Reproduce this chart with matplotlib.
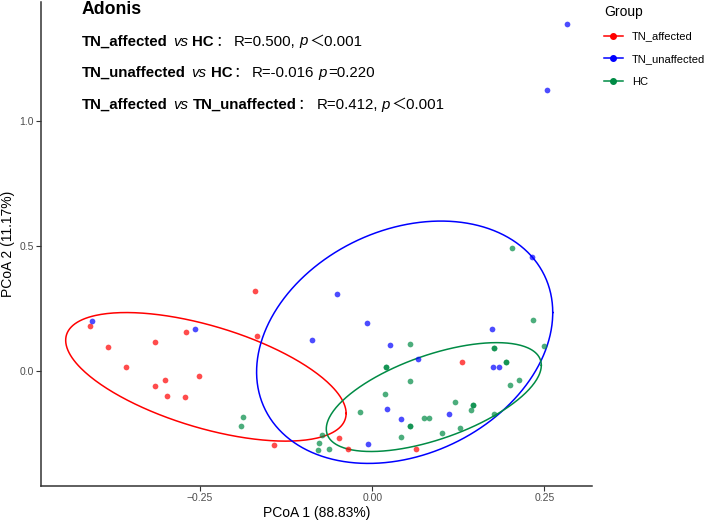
import numpy as np
import matplotlib
matplotlib.use("Agg")
import matplotlib.pyplot as plt
from matplotlib.lines import Line2D
from matplotlib.ticker import FuncFormatter

# PCoA scores
red_x = [-0.4099, -0.3842, -0.3155, -0.2709, -0.1708, -0.1670, -0.3581, -0.3010, -0.3148,
         -0.2512, -0.2977, -0.2724, -0.1432, -0.0479, -0.0357, 0.0630, 0.1307]
red_y = [0.1816, 0.0948, 0.1148, 0.1548, 0.3200, 0.1416, 0.0176, -0.0360, -0.0604,
         -0.0200, -0.0992, -0.1044, -0.2972, -0.2668, -0.3120, -0.3120, 0.0348]

blue_x = [-0.4066, -0.2579, -0.0871, -0.0508, -0.0081, 0.0257, 0.0664, 0.1742, 0.1757,
          0.1844, 0.0209, 0.1109, 0.0417, -0.0062, 0.2323, 0.2532, 0.2823]
blue_y = [0.2000, 0.1680, 0.1228, 0.3080, 0.1908, 0.1040, 0.0480, 0.1696, 0.0148,
          0.0176, -0.1520, -0.1732, -0.1932, -0.2932, 0.4536, 1.1216, 1.3856]

green_x = [-0.1875, -0.1902, -0.0735, -0.0774, -0.0793, -0.0633, 0.2033, 0.2338, 0.2489,
           0.0552, 0.1763, 0.1763, 0.1941, 0.1941, 0.0203, 0.0203, 0.0543, 0.2130, 0.1995,
           0.0184, 0.1201, 0.1462, 0.1462, 0.1429, -0.0179, 0.1767, 0.0751, 0.0823,
           0.0543, 0.0543, 0.1273, 0.1016, 0.0412]
green_y = [-0.1840, -0.2200, -0.2560, -0.2872, -0.3164, -0.3100, 0.4896, 0.2028, 0.0988,
           0.1080, 0.0920, 0.0920, 0.0360, 0.0360, 0.0160, 0.0160, -0.0412, -0.0372, -0.0572,
           -0.0932, -0.1224, -0.1360, -0.1360, -0.1572, -0.1640, -0.1732, -0.1864, -0.1892,
           -0.2184, -0.2184, -0.2292, -0.2480, -0.2652]

groups = ["TN_affected", "TN_unaffected", "HC"]
colors = ["#FF0000", "#0000FF", "#008B45"]

# 95% ellipses: centre x, centre y, half-extent x, half-extent y, correlation
ell_cx = [-0.2416, 0.0470, 0.0893]
ell_cy = [-0.0232, 0.1150, -0.1040]
ell_sx = [0.2036, 0.2150, 0.1561]
ell_sy = [0.2568, 0.4840, 0.2174]
ell_rho = [-0.5685, 0.245, 0.584]

stats_lines = [
    [("TN_affected", "b"), ("vs", "i"), ("HC", "b"), ("：", "r"), ("R=0.500,", "r"), ("p", "i"), ("＜0.001", "r")],
    [("TN_unaffected", "b"), ("vs", "i"), ("HC", "b"), ("：", "r"), ("R=-0.016", "r"), ("p", "i"), ("=0.220", "r")],
    [("TN_affected", "b"), ("vs", "i"), ("TN_unaffected", "b"), ("：", "r"), ("R=0.412,", "r"), ("p", "i"), ("＜0.001", "r")],
]

W, H = 708, 521
fig = plt.figure(figsize=(W / 100, H / 100), dpi=100)
ax = fig.add_axes([41.3 / W, 1 - 485.7 / H, (592 - 41.3) / W, (485.7 - 2) / H])

xs = [red_x, blue_x, green_x]
ys = [red_y, blue_y, green_y]
t = np.linspace(0, 2 * np.pi, 300)
for i in range(3):
    ex = ell_cx[i] + ell_sx[i] * np.cos(t)
    ey = ell_cy[i] + ell_sy[i] * (ell_rho[i] * np.cos(t) + np.sqrt(1 - ell_rho[i] ** 2) * np.sin(t))
    ax.plot(ex, ey, color=colors[i], lw=1.1, zorder=2)
for i in range(3):
    ax.scatter(xs[i], ys[i], s=17, color=colors[i], alpha=0.7, linewidths=0, zorder=3)

ax.set_xlim(-0.4806, 0.319)
ax.set_ylim(-0.458, 1.474)
ax.set_xticks([-0.25, 0.0, 0.25])
ax.set_yticks([0.0, 0.5, 1.0])
ax.xaxis.set_major_formatter(FuncFormatter(lambda v, p: f"{v:.2f}".replace("-", "\u2212")))
ax.yaxis.set_major_formatter(FuncFormatter(lambda v, p: f"{v:.1f}".replace("-", "\u2212")))
for s in ["top", "right"]:
    ax.spines[s].set_visible(False)
for s in ["left", "bottom"]:
    ax.spines[s].set_linewidth(1.1)
    ax.spines[s].set_color("#333333")
ax.tick_params(length=3.5, width=0.8, color="#333333", labelcolor="#4D4D4D",
               labelsize=7.5, pad=2)
for lab in ax.get_xticklabels() + ax.get_yticklabels():
    lab.set_family("Liberation Sans")
ax.set_xlabel("PCoA 1 (88.83%)", family="Liberation Sans", fontsize=10, labelpad=2)
ax.set_ylabel("PCoA 2 (11.17%)", family="Liberation Sans", fontsize=10, labelpad=3)

# legend
handles = [Line2D([], [], color=c, marker="o", markersize=4, lw=1.1) for c in colors]
leg = fig.legend(handles, groups, loc="upper left", bbox_to_anchor=(594 / W, 1.01),
                 frameon=False, title="Group", alignment="left",
                 prop={"family": "Liberation Sans", "size": 8},
                 title_fontproperties={"family": "Liberation Sans", "size": 10},
                 handlelength=1.7, handletextpad=0.8, labelspacing=1.15)

# Adonis annotation, segment by segment
fams = ["Liberation Sans", "Noto Sans CJK SC"]
fs = 10.8
styles = {
    "b": dict(family=fams, weight="bold", fontsize=fs),
    "r": dict(family=fams, fontsize=fs),
    "i": dict(family=fams, style="italic", fontsize=fs),
}
fig.text(81.7 / W, 1 - 14 / H, "Adonis", family=fams, weight="bold", fontsize=12.7, va="baseline")
renderer = fig.canvas.get_renderer()
baselines = [45.5, 77.2, 108.8]
for k, segs in enumerate(stats_lines):
    x = 81.7
    prev = None
    for txt, st in segs:
        if prev is not None:
            if st == "i" and txt == "vs":
                x += 6
            elif prev == "i" and txt in ("HC", "TN_unaffected"):
                x += 4
            elif txt.startswith("R"):
                x += 4
            elif txt == "p":
                x += 4
            else:
                x += 1
        tt = fig.text(x / W, 1 - baselines[k] / H, txt, va="baseline", ha="left", **styles[st])
        x += tt.get_window_extent(renderer).width
        prev = st

fig.savefig("out.png", dpi=100)
